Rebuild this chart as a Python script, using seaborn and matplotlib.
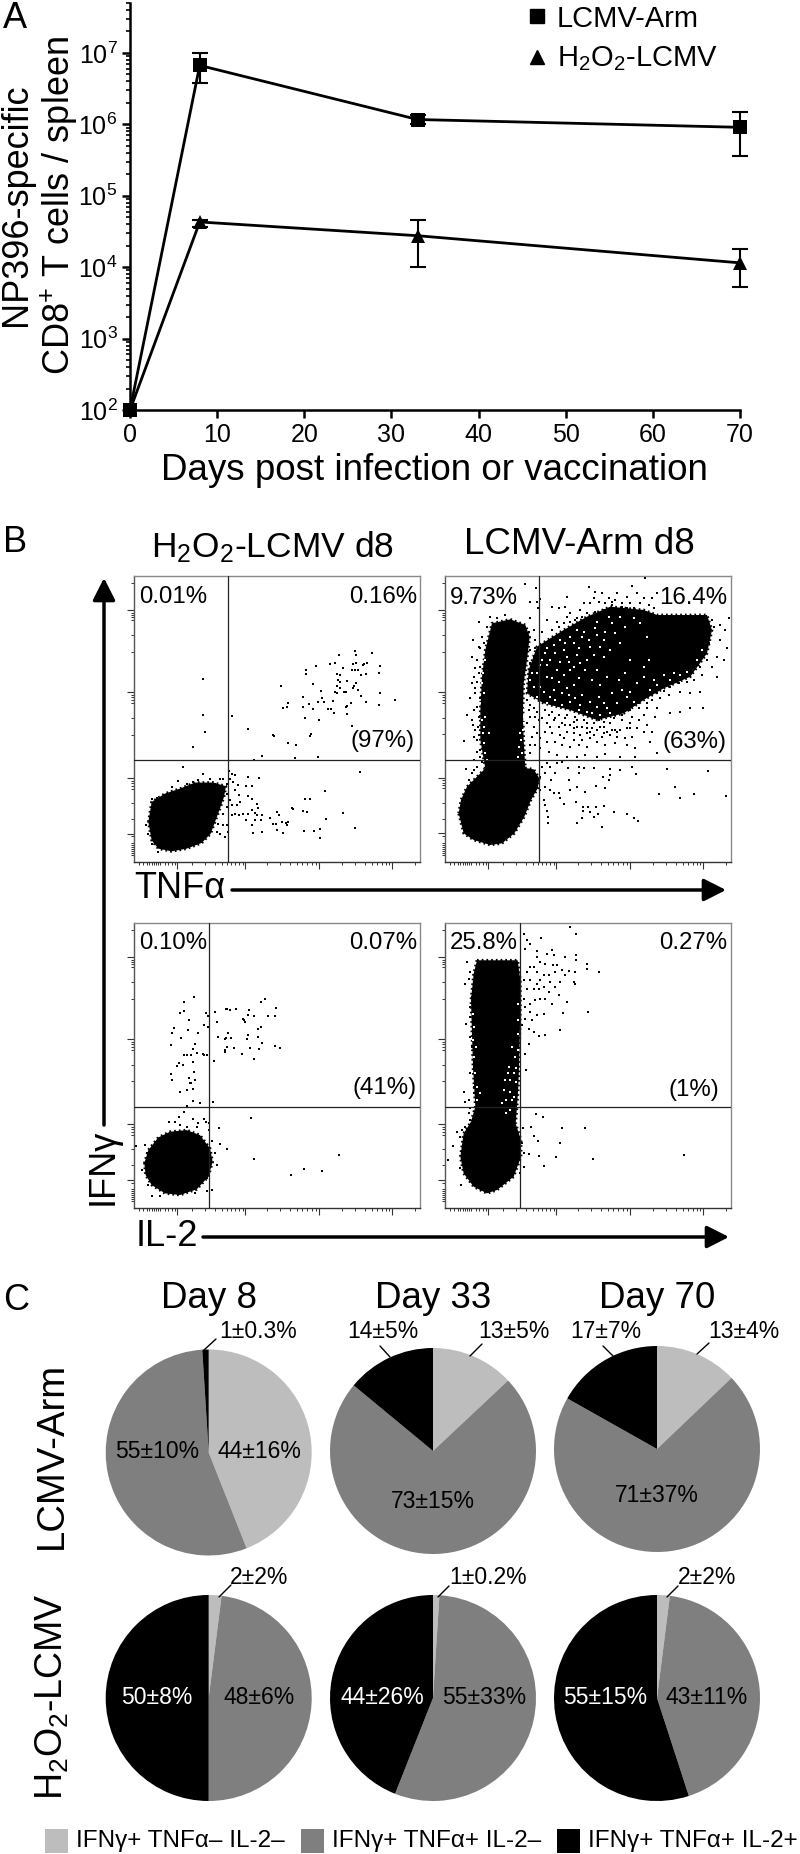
import numpy as np
import pandas as pd
import seaborn as sns
import matplotlib
matplotlib.use('Agg')
import matplotlib.pyplot as plt
from matplotlib.patches import Rectangle

W, H = 800, 1854

# panel A
days = [0, 8, 33, 70]
arm_mean = [100, 6.7e6, 1.17e6, 9.1e5]
arm_low = [100, 3.8e6, 1.0e6, 3.6e5]
arm_high = [100, 1.0e7, 1.35e6, 1.47e6]
h2o2_mean = [100, 4.3e4, 2.76e4, 1.15e4]
h2o2_low = [100, 3.6e4, 1.0e4, 5.3e3]
h2o2_high = [100, 4.6e4, 4.6e4, 1.8e4]

# panel B, read in channels of each plot
tnf_h2o2_cloud = [(205, 905), (215, 845), (255, 820), (300, 805), (345, 787), (400, 787), (438, 798), (432, 830),
                  (418, 870), (405, 905), (392, 940), (365, 968), (320, 985), (275, 993), (235, 985), (215, 960)]
tnf_h2o2_dots = [(369, 476), (369, 586), (376, 635), (340, 679), (309, 739), (456, 589), (503, 626), (580, 644),
                 (582, 648), (623, 669), (649, 673), (646, 713), (522, 718), (546, 706), (713, 709), (690, 648),
                 (693, 642), (603, 499), (677, 462), (679, 449), (709, 438), (749, 432), (766, 429), (776, 405),
                 (826, 393), (828, 406), (876, 398), (820, 432), (828, 430), (852, 432), (862, 428), (848, 435),
                 (899, 438), (896, 460), (857, 462), (843, 465), (789, 445), (815, 449), (825, 449), (833, 449),
                 (772, 462), (780, 465), (775, 480), (780, 486), (802, 482), (772, 498), (780, 505), (822, 497),
                 (828, 490), (820, 505), (835, 510), (700, 492), (722, 512), (765, 516), (772, 518), (793, 516),
                 (797, 516), (842, 528), (899, 519), (670, 532), (727, 535), (713, 545), (733, 546), (760, 543),
                 (812, 548), (858, 546), (896, 555), (945, 539), (625, 549), (622, 562), (609, 565), (670, 562),
                 (686, 551), (700, 566), (745, 566), (752, 567), (763, 578), (797, 562), (801, 559), (802, 582),
                 (676, 594), (716, 599), (816, 618), (839, 755), (736, 812), (676, 835), (690, 835), (789, 879),
                 (739, 895), (826, 922), (672, 932), (703, 932), (719, 925), (719, 952), (636, 862), (639, 867),
                 (668, 872), (680, 876), (590, 875), (596, 884), (570, 892), (580, 910), (587, 912), (606, 905),
                 (618, 908), (625, 905), (620, 914), (590, 928), (608, 938), (546, 935), (520, 938), (505, 770),
                 (536, 772), (498, 798), (515, 798), (505, 828), (515, 835), (530, 850), (533, 862), (515, 870),
                 (525, 878), (505, 880), (490, 880), (478, 885), (498, 900), (515, 915), (530, 885), (545, 883),
                 (543, 898), (525, 900), (448, 752), (455, 760), (465, 765), (450, 775), (458, 785), (473, 793),
                 (440, 790), (430, 775), (420, 775), (465, 810), (478, 825), (440, 820), (450, 840), (455, 855),
                 (470, 855), (480, 845), (440, 860), (430, 880), (455, 885), (465, 880), (440, 915), (430, 915),
                 (445, 935), (410, 935), (420, 940), (435, 950), (370, 760), (355, 778), (390, 775), (340, 785),
                 (405, 790), (375, 798), (415, 835), (420, 850), (410, 870), (415, 910), (293, 783), (235, 995),
                 (215, 835), (230, 832), (198, 915), (205, 940), (215, 970), (275, 800), (320, 790), (395, 910)]

tnf_arm_clouds = [
    [(85, 760), (92, 720), (110, 680), (140, 650), (165, 625), (200, 615), (260, 620), (310, 628), (327, 655),
     (322, 685), (302, 720), (282, 770), (252, 820), (215, 850), (180, 855), (130, 840), (100, 820)],
    [(165, 625), (150, 540), (150, 450), (155, 350), (165, 270), (185, 190), (240, 178), (285, 195), (298, 230),
     (290, 300), (280, 370), (278, 450), (280, 540), (285, 625)],
    [(295, 330), (320, 260), (400, 210), (470, 170), (540, 140), (640, 150), (680, 165), (830, 165), (845, 210),
     (830, 280), (780, 350), (700, 385), (640, 420), (580, 460), (500, 480), (420, 450), (340, 430), (290, 400)],
]
tnf_arm_dots = [(711, 628), (834, 632), (685, 702), (735, 682), (748, 715), (791, 702), (888, 708), (618, 642),
                (605, 622), (570, 630), (540, 628), (538, 645), (535, 660), (517, 650), (525, 685), (498, 678),
                (460, 625), (490, 625), (445, 620), (445, 640), (412, 625), (415, 660), (440, 680), (418, 690),
                (465, 697), (437, 725), (458, 742), (458, 752), (472, 742), (497, 742), (521, 738), (551, 755),
                (591, 762), (610, 773), (622, 782), (515, 802), (441, 788), (455, 775), (478, 757), (490, 772),
                (503, 762), (400, 733), (390, 715), (385, 700), (352, 790), (352, 770), (350, 752), (345, 735),
                (340, 720), (330, 690), (345, 680), (360, 690), (372, 700), (362, 660), (345, 640), (375, 640),
                (395, 605), (380, 610), (360, 620), (335, 620), (330, 650), (350, 610), (335, 475), (350, 490),
                (370, 480), (385, 500), (405, 475), (420, 495), (440, 480), (455, 500), (470, 490), (485, 505),
                (505, 480), (520, 500), (540, 490), (555, 510), (575, 480), (600, 490), (625, 480), (650, 495),
                (665, 515), (605, 530), (585, 535), (560, 530), (540, 525), (515, 530), (490, 525), (470, 520),
                (450, 525), (430, 520), (410, 515), (390, 525), (365, 520), (345, 515), (330, 535), (350, 545),
                (375, 545), (395, 555), (420, 560), (445, 555), (470, 560), (500, 545), (525, 555), (555, 550),
                (590, 555), (615, 565), (658, 545), (680, 580), (330, 565), (355, 575), (380, 585), (410, 590),
                (440, 590), (465, 585), (500, 590), (525, 582), (570, 590), (615, 590), (300, 470), (310, 500),
                (305, 530), (315, 555), (300, 580), (680, 400), (700, 392), (720, 380), (745, 370), (770, 365),
                (790, 360), (815, 345), (860, 352), (650, 430), (665, 420), (690, 415), (715, 405), (750, 395),
                (780, 400), (810, 395), (625, 445), (650, 445), (680, 445), (720, 460), (750, 455), (780, 445),
                (817, 445), (640, 465), (675, 470), (605, 470), (285, 72), (318, 85), (300, 125), (320, 125),
                (330, 118), (322, 145), (365, 142), (385, 145), (410, 112), (405, 140), (420, 160), (435, 180),
                (450, 150), (475, 80), (495, 95), (515, 100), (505, 125), (480, 130), (525, 130), (545, 125),
                (560, 100), (590, 112), (605, 78), (620, 98), (640, 115), (665, 115), (680, 100), (645, 55),
                (600, 130), (575, 140), (350, 180), (380, 185), (410, 170), (440, 175), (460, 130), (430, 200),
                (400, 190), (365, 210), (335, 215), (895, 175), (885, 210), (870, 240), (890, 265), (860, 290),
                (880, 300), (845, 320), (835, 250), (850, 200), (845, 180), (830, 300), (810, 320), (870, 195),
                (145, 185), (128, 240), (125, 290), (150, 265), (140, 300), (130, 350), (145, 340), (125, 370),
                (135, 400), (120, 415), (140, 440), (110, 465), (125, 480), (145, 470), (100, 542), (135, 510),
                (140, 540), (150, 570), (130, 600), (108, 628), (125, 640), (115, 660), (180, 170), (200, 175),
                (225, 165), (300, 175), (310, 210), (315, 240), (295, 215), (170, 200), (155, 230), (145, 260),
                (160, 250), (135, 325), (150, 320), (140, 365), (135, 385), (148, 415), (132, 450), (143, 500),
                (128, 495), (145, 525), (130, 530), (150, 590), (140, 575), (155, 605), (140, 620), (130, 630),
                (300, 270), (310, 290), (300, 310), (315, 265), (290, 420), (300, 435), (310, 445), (320, 455),
                (295, 450), (345, 450), (365, 455), (385, 465), (410, 465), (435, 470), (460, 480), (490, 490),
                (520, 485), (550, 475), (575, 465), (600, 450), (625, 430), (325, 480), (315, 470), (290, 490),
                (320, 520), (300, 555), (360, 500), (405, 495), (430, 505), (480, 515), (530, 515), (570, 510),
                (590, 505), (620, 505), (640, 515), (500, 510), (455, 540), (400, 535), (430, 540), (560, 515),
                (600, 505), (520, 520), (545, 510), (480, 535), (510, 500), (470, 505), (440, 500), (395, 490),
                (355, 465), (375, 475), (430, 485), (545, 135), (520, 150), (495, 155), (470, 160), (575, 130),
                (610, 145), (630, 130), (655, 135), (670, 145), (590, 145), (555, 120), (535, 115), (490, 115),
                (455, 170), (420, 185), (385, 200)]
tnf_arm_gaps = [(345, 280), (360, 300), (400, 270), (410, 290), (380, 330), (350, 350), (320, 340), (330, 380),
                (370, 390), (420, 330), (310, 380), (300, 360), (390, 240), (430, 250), (455, 230), (480, 260),
                (500, 225), (520, 240), (545, 190), (470, 300), (440, 285), (385, 365), (360, 410), (420, 425),
                (450, 435), (470, 455), (500, 440), (530, 445), (560, 430), (590, 410), (620, 370), (640, 350),
                (655, 300), (650, 230), (610, 175), (570, 170), (500, 185), (440, 210), (410, 385), (350, 430),
                (700, 345), (730, 340), (660, 390), (270, 520), (280, 490), (265, 560), (275, 580), (150, 430),
                (160, 400), (160, 500), (175, 520), (165, 470), (335, 300), (350, 265), (375, 280), (390, 305),
                (405, 250), (420, 230), (445, 265), (460, 215), (475, 240), (495, 205), (525, 215), (535, 170),
                (510, 260), (490, 285), (465, 330), (445, 355), (430, 375), (400, 345), (365, 355), (340, 395),
                (320, 410), (375, 420), (395, 435), (435, 415), (455, 405), (480, 425), (505, 410), (520, 430),
                (545, 400), (575, 390), (600, 395), (610, 425), (540, 460), (510, 465), (485, 460), (445, 450),
                (415, 405), (395, 400), (305, 340), (330, 315), (350, 315), (370, 255), (415, 305), (430, 320),
                (450, 310), (500, 330), (520, 290), (540, 270), (485, 360), (510, 375), (530, 350), (565, 360),
                (585, 340), (600, 300), (570, 250), (555, 220), (585, 200), (630, 190), (640, 320), (670, 360),
                (680, 375), (720, 360), (750, 345), (770, 335), (800, 300), (815, 270), (285, 440), (282, 470),
                (278, 510), (272, 540), (262, 590), (155, 480), (158, 520), (162, 550), (165, 580), (170, 600),
                (156, 370), (158, 340), (165, 300)]

il2_h2o2_cloud = [(193, 790), (205, 750), (235, 712), (270, 695), (320, 690), (360, 705), (390, 745), (398, 785),
                  (385, 830), (350, 868), (300, 885), (255, 880), (215, 855), (197, 825)]
il2_h2o2_dots = [(343, 291), (313, 304), (313, 331), (299, 337), (328, 360), (282, 384), (276, 397), (323, 390),
                 (353, 397), (303, 413), (273, 434), (346, 431), (339, 447), (352, 457), (313, 464), (321, 464),
                 (332, 464), (368, 462), (372, 465), (381, 463), (296, 487), (292, 497), (309, 493), (339, 484),
                 (403, 481), (273, 523), (276, 541), (343, 517), (326, 534), (330, 548), (334, 548), (346, 541),
                 (299, 577), (320, 571), (340, 567), (340, 604), (360, 610), (400, 607), (320, 617), (313, 637),
                 (296, 651), (378, 338), (384, 346), (406, 334), (437, 326), (441, 327), (449, 330), (469, 327),
                 (506, 330), (503, 344), (523, 347), (543, 304), (556, 297), (589, 324), (563, 347), (586, 347),
                 (490, 356), (495, 364), (493, 360), (410, 364), (373, 374), (384, 380), (543, 380), (533, 387),
                 (443, 397), (413, 410), (434, 417), (437, 412), (453, 413), (503, 404), (500, 417), (533, 410),
                 (546, 427), (586, 437), (600, 444), (440, 440), (436, 450), (436, 455), (463, 444), (487, 461),
                 (510, 444), (536, 447), (523, 477), (513, 654), (416, 684), (420, 733), (440, 747), (523, 777),
                 (776, 764), (633, 824), (673, 807), (726, 814), (395, 870), (382, 872), (168, 737), (267, 667),
                 (285, 665), (340, 657), (372, 658), (378, 665), (388, 670), (300, 675), (355, 668), (320, 680),
                 (350, 680), (388, 690), (395, 722), (405, 760), (410, 795), (380, 835), (225, 735), (195, 735),
                 (200, 760), (185, 810), (205, 855), (215, 887), (240, 887), (345, 880)]

il2_arm_cloud = [(140, 180), (262, 180), (270, 240), (270, 330), (268, 420), (266, 500), (264, 560), (260, 620),
                 (256, 670), (272, 720), (272, 770), (250, 830), (200, 870), (170, 880), (130, 860), (100, 820),
                 (90, 770), (100, 700), (122, 665), (135, 620), (128, 500), (125, 400), (122, 300), (130, 220)]
il2_arm_dots = [(418, 80), (438, 100), (280, 100), (290, 118), (332, 114), (300, 132), (285, 145), (365, 148),
                (350, 162), (320, 152), (372, 165), (405, 170), (438, 163), (438, 178), (320, 170), (330, 185),
                (345, 190), (368, 195), (380, 195), (470, 190), (470, 207), (505, 214), (415, 212), (435, 215),
                (395, 210), (405, 225), (300, 200), (290, 215), (310, 200), (320, 215), (340, 225), (355, 225),
                (375, 215), (430, 245), (435, 250), (390, 245), (360, 245), (330, 240), (320, 250), (300, 240),
                (280, 240), (290, 265), (310, 265), (325, 265), (340, 260), (355, 275), (375, 260), (385, 285),
                (410, 305), (365, 310), (345, 295), (330, 295), (315, 300), (300, 310), (280, 295), (285, 320),
                (300, 335), (320, 345), (340, 340), (398, 338), (472, 334), (285, 355), (305, 360), (275, 375),
                (295, 385), (310, 395), (345, 405), (325, 408), (388, 390), (295, 430), (285, 461), (288, 510),
                (100, 575), (105, 605), (115, 600), (120, 625), (105, 680), (95, 690), (80, 697), (90, 710),
                (68, 737), (52, 780), (90, 805), (92, 855), (110, 720), (115, 640), (120, 660), (110, 185),
                (120, 215), (105, 250), (115, 235), (125, 290), (118, 320), (108, 370), (120, 350), (120, 410),
                (125, 440), (130, 490), (120, 520), (130, 560), (130, 580), (318, 643), (338, 650), (277, 684),
                (302, 680), (395, 684), (465, 684), (310, 707), (322, 724), (388, 730), (295, 763), (325, 767),
                (378, 770), (488, 777), (760, 764), (342, 797), (280, 800), (270, 820), (275, 730), (280, 760)]
il2_arm_gaps = [(235, 500), (225, 540), (220, 570), (240, 540), (255, 470), (245, 440), (262, 400), (228, 600),
                (245, 600), (135, 520), (140, 560), (132, 470), (128, 420), (250, 520), (258, 545), (238, 575),
                (252, 590), (215, 610), (262, 450), (258, 505), (232, 520), (140, 600), (148, 580), (136, 440),
                (131, 380), (128, 340), (262, 360), (264, 310), (240, 630), (228, 640)]

major_offsets_x = [128, 333, 556, 775]
major_offsets_y = [102, 349, 605, 772]
minor_offsets_x = [16, 28, 38, 46, 53, 60, 66, 71, 78, 93, 103, 113, 123, 173, 213, 243, 263, 278, 291, 303, 316,
                   326, 398, 438, 468, 488, 503, 518, 533, 546, 623, 663, 693, 713, 730, 743, 756, 766, 843]
minor_offsets_y = [20, 110, 117, 124, 132, 177, 227, 357, 364, 371, 380, 425, 475, 613, 620, 628, 637, 680, 728,
                   780, 800, 806, 812, 818, 824, 830, 836]

# panel C
pie_segments = ['IFNγ+ TNFα– IL-2–', 'IFNγ+ TNFα+ IL-2–', 'IFNγ+ TNFα+ IL-2+']
pie_colors = ['#bdbdbd', '#7f7f7f', '#000000']
day_titles = ['Day 8', 'Day 33', 'Day 70']
arm_shares = [[44, 55, 1], [13, 73, 14], [13, 71, 17]]
h2o2_shares = [[2, 48, 50], [1, 55, 44], [2, 43, 55]]

sns.set_theme(style='white')
plt.rcParams['font.family'] = ['Liberation Sans', 'DejaVu Sans']
plt.rcParams['mathtext.fontset'] = 'custom'
plt.rcParams['mathtext.rm'] = 'Liberation Sans'
plt.rcParams['mathtext.it'] = 'Liberation Sans'
plt.rcParams['mathtext.bf'] = 'Liberation Sans'
plt.rcParams['mathtext.default'] = 'regular'

fig = plt.figure(figsize=(W / 100, H / 100), dpi=100, facecolor='white')


def px_axes(left, top, right, bottom):
    return fig.add_axes([left / W, 1 - bottom / H, (right - left) / W, (bottom - top) / H])


# A
ax = px_axes(130, 3, 740, 410)
ax.set_facecolor('none')
for mean, low, high, marker in [(arm_mean, arm_low, arm_high, 's'), (h2o2_mean, h2o2_low, h2o2_high, '^')]:
    line_data = pd.DataFrame({'day': days, 'cells': mean})
    sns.lineplot(data=line_data, x='day', y='cells', ax=ax, color='black', linewidth=2, marker=marker,
                 markersize=10, markeredgewidth=0, clip_on=False, errorbar=None, zorder=4)
    lower = np.array(mean) - np.array(low)
    upper = np.array(high) - np.array(mean)
    ax.errorbar(days[1:], mean[1:], yerr=[lower[1:], upper[1:]], fmt='none', ecolor='black', elinewidth=1.5,
                capsize=5.5, capthick=1.5, clip_on=False, zorder=3)
ax.set_yscale('log')
ax.set_xlim(0, 70)
ax.set_ylim(100, 10 ** 7.7)
ax.set_xticks(range(0, 71, 10))
ax.set_yticks([10 ** k for k in range(2, 8)])
ax.yaxis.set_minor_locator(matplotlib.ticker.LogLocator(base=10, subs=range(2, 10), numticks=12))
ax.yaxis.set_minor_formatter(matplotlib.ticker.NullFormatter())
ax.tick_params(axis='both', which='major', direction='out', length=6, width=1.8, labelsize=18, pad=3,
               left=True, bottom=True, color='black', labelcolor='black')
ax.tick_params(axis='y', which='minor', direction='out', length=3, width=1.2, left=True, color='black')
ax.set_xlabel('')
ax.set_ylabel('')
sns.despine(ax=ax)
for side in ['left', 'bottom']:
    ax.spines[side].set_linewidth(1.8)
    ax.spines[side].set_color('black')

# B
flow_panels = [
    (134, 576, 420, 862, (162, 1020), (168, 1025), 445, 720, [tnf_h2o2_cloud], tnf_h2o2_dots, [], 2.6),
    (445, 576, 731, 862, (44, 902), (48, 906), 326, 600, tnf_arm_clouds, tnf_arm_dots, tnf_arm_gaps, 3.5),
    (134, 923, 420, 1208, (162, 1020), (68, 924), 388, 622, [il2_h2o2_cloud], il2_h2o2_dots, [], 2.6),
    (445, 923, 731, 1208, (44, 902), (68, 924), 270, 622, [il2_arm_cloud], il2_arm_dots, il2_arm_gaps, 3),
]
for left, top, right, bottom, xlim, ylim, gate_x, gate_y, clouds, dots, gaps, dot_size in flow_panels:
    ax = px_axes(left, top, right, bottom)
    for cloud in clouds:
        cloud = np.array(cloud)
        ax.fill(cloud[:, 0], cloud[:, 1], color='black', linewidth=0, zorder=2)
        # rough edge instead of a clean outline
        ax.plot(np.append(cloud[:, 0], cloud[0, 0]), np.append(cloud[:, 1], cloud[0, 1]), color='black',
                linewidth=2, linestyle=(0, (0.6, 1.1)), zorder=2)
    dots = np.array(dots)
    sns.scatterplot(x=dots[:, 0], y=dots[:, 1], ax=ax, color='black', marker='s', s=dot_size, linewidth=0, zorder=3)
    if gaps:
        gaps = np.array(gaps)
        sns.scatterplot(x=gaps[:, 0], y=gaps[:, 1], ax=ax, color='white', marker='s', s=3, linewidth=0, zorder=3)
    ax.axvline(gate_x, color='#222222', linewidth=0.9, zorder=4)
    ax.axhline(gate_y, color='#222222', linewidth=0.9, zorder=4)
    ax.set_xlim(*xlim)
    ax.set_ylim(ylim[1], ylim[0])
    ax.set_xticks([xlim[0] + v for v in major_offsets_x])
    ax.set_xticks([xlim[0] + v for v in minor_offsets_x], minor=True)
    ax.set_yticks([ylim[0] + v for v in major_offsets_y])
    ax.set_yticks([ylim[0] + v for v in minor_offsets_y], minor=True)
    ax.tick_params(axis='both', which='major', direction='out', length=5, width=0.8, color='#333333',
                   labelleft=False, labelbottom=False, left=True, bottom=True)
    ax.tick_params(axis='both', which='minor', direction='out', length=2.2, width=0.7, color='#333333',
                   left=True, bottom=True)
    for side in ax.spines:
        ax.spines[side].set_color('#8a8a8a')
        ax.spines[side].set_linewidth(1.0)
    ax.spines['left'].set_color('#555555')
    ax.spines['bottom'].set_color('#333333')

# C
pie_centers_x = [208.7, 433, 657]
pie_rows = [(arm_shares, [1452.5, 1451, 1449]), (h2o2_shares, [1698, 1698, 1698])]
for shares, centers_y in pie_rows:
    for values, cx, cy in zip(shares, pie_centers_x, centers_y):
        ax = px_axes(cx - 103, cy - 103, cx + 103, cy + 103)
        ax.pie(values, colors=pie_colors, startangle=90, counterclock=False, radius=1,
               wedgeprops=dict(linewidth=0, edgecolor='none'))
        ax.set_xlim(-1, 1)
        ax.set_ylim(-1, 1)
        ax.set_aspect('equal')

# overlay in pixels for words and arrows
over = fig.add_axes([0, 0, 1, 1], facecolor='none', zorder=10)
over.set_xlim(0, W)
over.set_ylim(H, 0)
over.axis('off')


def word(x, y, s, size=26, ha='center', rotation=0, color='black'):
    over.text(x, y, s, fontsize=size, ha=ha, va='center', rotation=rotation, color=color,
              rotation_mode='anchor')


def arrow(x0, y0, x1, y1):
    over.annotate('', xy=(x1, y1), xytext=(x0, y0),
                  arrowprops=dict(arrowstyle='-|>,head_length=0.75,head_width=0.38', color='black', linewidth=2.5,
                                  mutation_scale=18, shrinkA=0, shrinkB=0))


word(3, 18, 'A', 26, ha='left')
word(3, 543, 'B', 26, ha='left')
word(3, 1301, 'C', 26, ha='left')

word(17, 205, 'NP396-specific', 26, rotation=90)
word(59, 205, 'CD8$^{+}$ T cells / spleen', 26, rotation=90)
word(434, 470, 'Days post infection or vaccination', 26.5)
over.plot([537], [16], marker='s', markersize=10, color='black', linewidth=0)
over.plot([537], [57], marker='^', markersize=10, color='black', linewidth=0)
word(557, 19, 'LCMV-Arm', 21, ha='left')
word(557, 59, 'H$_2$O$_2$-LCMV', 21, ha='left')

word(272, 547, 'H$_2$O$_2$-LCMV d8', 25.5)
word(579, 545, 'LCMV-Arm d8', 26.5)

flow_labels = [(139, 597, '0.01%', 'left'), (417, 597, '0.16%', 'right'), (415, 741, '(97%)', 'right'),
               (450, 598, '9.73%', 'left'), (727, 598, '16.4%', 'right'), (726, 742, '(63%)', 'right'),
               (139, 943, '0.10%', 'left'), (417, 943, '0.07%', 'right'), (417, 1088, '(41%)', 'right'),
               (450, 943, '25.8%', 'left'), (727, 943, '0.27%', 'right'), (719, 1090, '(1%)', 'right')]
for x, y, s, ha in flow_labels:
    word(x, y, s, 17.3, ha=ha)

word(134, 888, 'TNFα', 26, ha='left')
word(136, 1237, 'IL-2', 26, ha='left')
word(103, 1167, 'IFNγ', 26, rotation=90)
arrow(232, 890, 726, 890)
arrow(203, 1237, 729, 1237)
arrow(104, 1125, 104, 578)

for cx, title in zip(pie_centers_x, day_titles):
    word(cx, 1298, title, 26.5)
word(52, 1455, 'LCMV-Arm', 27.5, rotation=90)
word(52, 1697, 'H$_2$O$_2$-LCMV', 27, rotation=90)

pie_labels = [(258, 1332, '1±0.3%', 'black'), (383, 1332, '14±5%', 'black'), (514, 1332, '13±5%', 'black'),
              (606, 1332, '17±7%', 'black'), (744, 1332, '13±4%', 'black'), (157, 1452, '55±10%', 'black'),
              (259, 1452, '44±16%', 'black'), (433, 1501, '73±15%', 'black'), (657, 1495, '71±37%', 'black'),
              (259, 1578, '2±2%', 'black'), (488, 1578, '1±0.2%', 'black'), (707, 1578, '2±2%', 'black'),
              (157, 1697, '50±8%', 'white'), (259, 1697, '48±6%', 'black'), (382, 1697, '44±26%', 'white'),
              (484, 1697, '55±33%', 'black'), (605, 1697, '55±15%', 'white'), (707, 1697, '43±11%', 'black')]
for x, y, s, color in pie_labels:
    word(x, y, s, 16.5, color=color)

leaders = [((216, 1339), (204, 1350)), ((380, 1346), (390, 1357)), ((482, 1344), (470, 1356)),
           ((603, 1346), (613, 1356)), ((709, 1343), (697, 1354)), ((231, 1585), (219, 1597)),
           ((449, 1586), (438, 1597)), ((678, 1586), (667, 1597))]
for start, end in leaders:
    over.plot([start[0], end[0]], [start[1], end[1]], color='black', linewidth=1)

legend_boxes = [(45, 75.5), (301, 332.5), (557, 588)]
for (box_x, text_x), name, color in zip(legend_boxes, pie_segments, pie_colors):
    over.add_patch(Rectangle((box_x, 1829), 23, 24, facecolor=color, edgecolor='none'))
    word(text_x, 1841, name, 17.5, ha='left')

plt.savefig('out.png', dpi=100)
